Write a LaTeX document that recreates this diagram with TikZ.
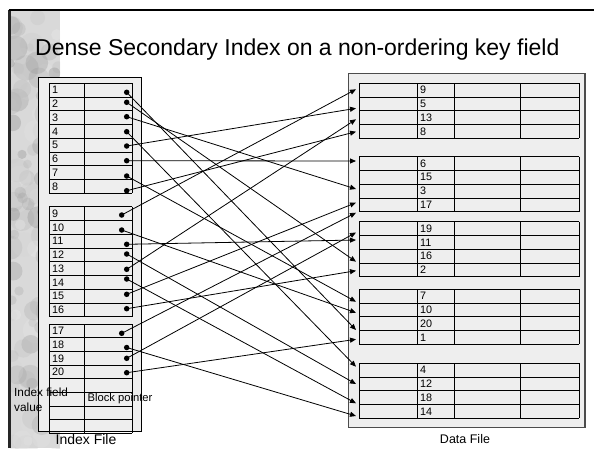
\documentclass[tikz,border=0pt]{standalone}
\usepackage{fontspec}
\setmainfont{Liberation Sans}
\usetikzlibrary{arrows.meta}
\begin{document}
\begin{tikzpicture}[x=1pt,y=-1pt,
  filebox/.style={fill=gray!13, draw=black, line width=0.8pt},
  datafilebox/.style={fill=gray!13, draw=gray!60!black, line width=1.3pt},
  cell/.style={draw=black, line width=0.9pt},
  num/.style={anchor=west, inner sep=0pt, font=\fontsize{10.8}{12}\selectfont},
  lab/.style={inner sep=0pt, font=\fontsize{11.2}{13}\selectfont},
  filecap/.style={inner sep=0pt, font=\fontsize{14}{16}\selectfont},
  dot/.style={circle, fill=black, inner sep=0pt, minimum size=5.5pt},
  ptr/.style={draw=black, line width=0.8pt, -{Triangle[length=6pt,width=5pt]}}]
\useasboundingbox (0,0) rectangle (597,448);

% mottled strip on the left edge of the slide
\begin{scope}
  \clip (10,10) rectangle (60,448);
  \fill[gray!30] (10,10) rectangle (60,448);
  \pgfmathsetseed{42}
  \foreach \n in {1,...,120} {
    \pgfmathsetmacro{\xx}{10+50*rnd}
    \pgfmathsetmacro{\yy}{10+438*rnd}
    \pgfmathsetmacro{\rr}{4+9*rnd}
    \pgfmathtruncatemacro{\gg}{5+45*rnd}
    \fill[black!\gg, opacity=0.3] (\xx,\yy) circle[radius=\rr];
  }
\end{scope}

% slide frame
\draw[line width=2.6pt, gray!30!black] (9.5,448) -- (9.5,10);
\draw[line width=1.5pt] (8.5,10) -- (594,10);

% title
\node[anchor=base west, inner sep=0pt, font=\fontsize{23}{26}\selectfont] (title) at (35,55)
  {Dense Secondary Index on a non-ordering key field};

% ---------- index file ----------
\draw[filebox] (38,77) rectangle (141,431);

% index blocks: rows of 13.75
\foreach \top/\h in {83.3/13.75, 206.7/13.75, 324.3/13.625} {
  \foreach \i in {0,...,8}
    \draw[cell] (49,\top+\h*\i) -- (132,\top+\h*\i);
  \draw[cell] (49,\top) -- (49,\top+8*\h)
              (84,\top) -- (84,\top+8*\h)
              (132,\top) -- (132,\top+8*\h);
}
\foreach \k [count=\i from 0] in {1,...,8}
  \node[num] (i\k) at (52,83.3+13.75*\i+6.9) {\k};
\foreach \k [count=\i from 0] in {9,...,16}
  \node[num] (i\k) at (52,206.7+13.75*\i+6.9) {\k};
\foreach \k [count=\i from 0] in {17,...,20}
  \node[num] (i\k) at (52,324.3+13.625*\i+6.9) {\k};

\node[lab, anchor=north west, align=left, font=\fontsize{11.8}{15}\selectfont] (fieldlab) at (14,388) {Index field\\value};
\node[lab, anchor=west] (ptrlab) at (87.5,398.3) {Block pointer};
\node[filecap] (indexcap) at (86,439.5) {Index File};

% ---------- data file ----------
\draw[datafilebox] (348.3,73.3) rectangle (585,427.3);
\foreach \t/\a/\b/\c/\d in {83.3/9/5/13/8, 156.7/6/15/3/17, 221.7/19/11/16/2,
                            289.3/7/10/20/1, 363.3/4/12/18/14} {
  \foreach \i in {0,...,4}
    \draw[cell] (359.3,\t+13.75*\i) -- (579,\t+13.75*\i);
  \foreach \x in {359.3,417,454,520,579}
    \draw[cell] (\x,\t) -- (\x,\t+55);
  \node[num] (d\a) at (420,\t+6.9) {\a};
  \node[num] (d\b) at (420,\t+20.6) {\b};
  \node[num] (d\c) at (420,\t+34.4) {\c};
  \node[num] (d\d) at (420,\t+48.1) {\d};
}
\node[filecap, font=\fontsize{12.5}{14}\selectfont] (datacap) at (465,439) {Data File};

% block pointers
\foreach \k/\x/\y in {1/126.7/92.3, 2/126.7/102.3, 3/126.7/116.7, 4/126.7/131.7,
                      5/126.7/146, 6/126.7/160.7, 7/126.7/176, 8/126.7/190.7,
                      9/121.7/215, 10/121.7/230, 11/126.7/244.3, 12/126.7/254,
                      13/126.7/269.3, 14/126.7/279, 15/126.7/294.3, 16/126.7/308.7,
                      17/121.7/333.3, 18/126.7/347.5, 19/126.7/358.3, 20/126.7/372.7}
  \node[dot] (p\k) at (\x,\y) {};

\foreach \k/\y in {9/89.3, 5/108.3, 13/119.3, 8/131.7, 6/161, 3/189, 15/202.7, 17/212.7,
                   19/232.5, 11/240, 2/261.7, 16/270.7, 7/301.7, 10/312.7, 1/330, 20/339.3,
                   4/366.7, 12/384, 14/403.3, 18/416}
  \coordinate (t\k) at (356,\y);

\foreach \k in {1,...,20}
  \draw[ptr] (p\k.center) -- (t\k);
\end{tikzpicture}
\end{document}
